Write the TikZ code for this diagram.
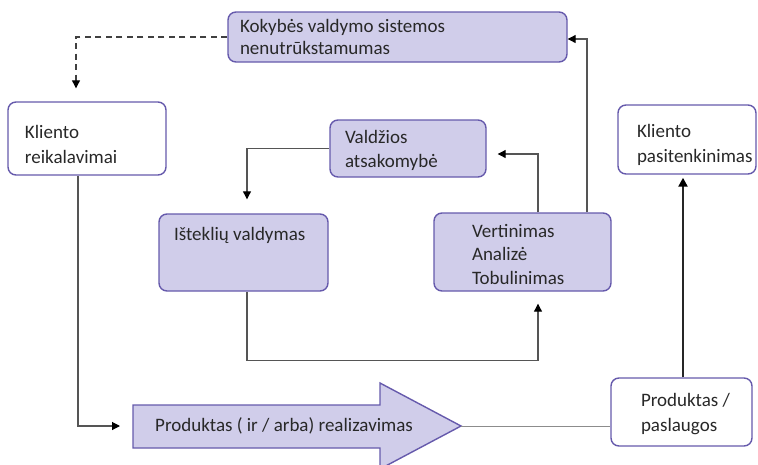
\documentclass[tikz,border=0pt]{standalone}
\usepackage{fontspec}
\setmainfont{Carlito}
\usetikzlibrary{arrows.meta}

\definecolor{lav}{RGB}{208,205,234}
\definecolor{bd}{RGB}{102,90,172}
\definecolor{ink}{RGB}{40,40,40}
\definecolor{wire}{RGB}{85,85,85}

% #1 width, #2 height, #3 left indent, #4 first baseline from top, #5 line skip, #6 text
\newcommand{\boxtxt}[6]{%
  \parbox[c][#2][t]{#1}{\vspace*{\dimexpr#4-20pt\relax}%
    \raggedright\leftskip=#3\relax\baselineskip=#5\relax
    \rule{0pt}{20pt}#6\par}}

\tikzset{
  stepbox/.style={draw=bd, line width=1.4pt, rounded corners=8pt, inner sep=0pt,
    fill=lav, text=ink, font=\fontsize{19}{22}\selectfont},
  whitebox/.style={stepbox, fill=white},
  wireline/.style={draw=wire, line width=1.1pt},
  tip/.style={-{Triangle[length=8pt,width=8pt,color=black]}},
}

\begin{document}
\begin{tikzpicture}[x=1pt, y=-1pt]
\useasboundingbox (0,0) rectangle (758,464);
\clip (0,0) rectangle (758,464);

% boxes
\node[stepbox] (kok) at (397.5,37)
  {\boxtxt{339pt}{50pt}{12pt}{20pt}{22pt}{Kokybės valdymo sistemos\\nenutrūkstamumas}};
\node[whitebox] (kreq) at (87,138.5)
  {\boxtxt{158pt}{73pt}{17pt}{36pt}{25pt}{Kliento\\reikalavimai}};
\node[stepbox] (vald) at (408,148.5)
  {\boxtxt{156pt}{57pt}{15pt}{23pt}{24pt}{Valdžios\\atsakomybė}};
\node[whitebox] (ksat) at (687,139.5)
  {\boxtxt{138pt}{69pt}{19pt}{32pt}{25pt}{Kliento\\pasitenkinimas}};
\node[stepbox] (istek) at (243.5,252.5)
  {\boxtxt{169pt}{77pt}{15pt}{26pt}{24pt}{Išteklių valdymas}};
\node[stepbox] (vert) at (522.5,252)
  {\boxtxt{177pt}{78pt}{38pt}{24pt}{23.5pt}{Vertinimas\\Analizė\\Tobulinimas}};
\node[whitebox] (prod) at (681.5,412)
  {\boxtxt{141pt}{68pt}{30pt}{28pt}{25pt}{Produktas /\\paslaugos}};

% big realisation arrow
\coordinate (bodyL) at (133,426);
\coordinate (bigtip) at (461,426);
\fill[lav, draw=bd, line width=1.4pt]
  (133,405) -- (380,405) -- (380,383) -- (bigtip) -- (380,469)
  -- (380,448) -- (133,448) -- cycle;
\node[anchor=base west, inner sep=0pt, text=ink, font=\fontsize{19}{22}\selectfont]
  (real) at (155,431) {Produktas ( ir / arba) realizavimas};

% connectors
\draw[wireline, draw=black!75, dash pattern=on 6pt off 4.5pt, tip, shorten >=13pt]
  (kok.west) -| ([xshift=-11pt]kreq.north);
\draw[wireline, tip, shorten >=14pt]
  (vald.west) -| ([xshift=3.5pt]istek.north);
\draw[wireline, tip, shorten >=11pt]
  ([xshift=15.5pt]vert.north) |- ([yshift=-5.5pt]vald.east);
\draw[wireline, tip]
  ([xshift=64.5pt]vert.north) |- ([yshift=-2pt]kok.east);
\draw[wireline, tip, shorten >=12pt]
  ([xshift=3.5pt]istek.south) -- ++(0,69) -| ([xshift=15.5pt]vert.south);
\draw[wireline, tip, shorten >=13pt]
  ([xshift=-9pt]kreq.south) |- (bodyL);
\draw[draw=black!45, line width=1pt]
  (bigtip) -- (bigtip -| prod.west);
\draw[draw=black!85, line width=2.4pt, -{Triangle[length=9pt,width=9pt,color=black]}, shorten >=3pt]
  ([xshift=1.5pt]prod.north) -- ([xshift=1.5pt]prod.north |- ksat.south);
\end{tikzpicture}
\end{document}
